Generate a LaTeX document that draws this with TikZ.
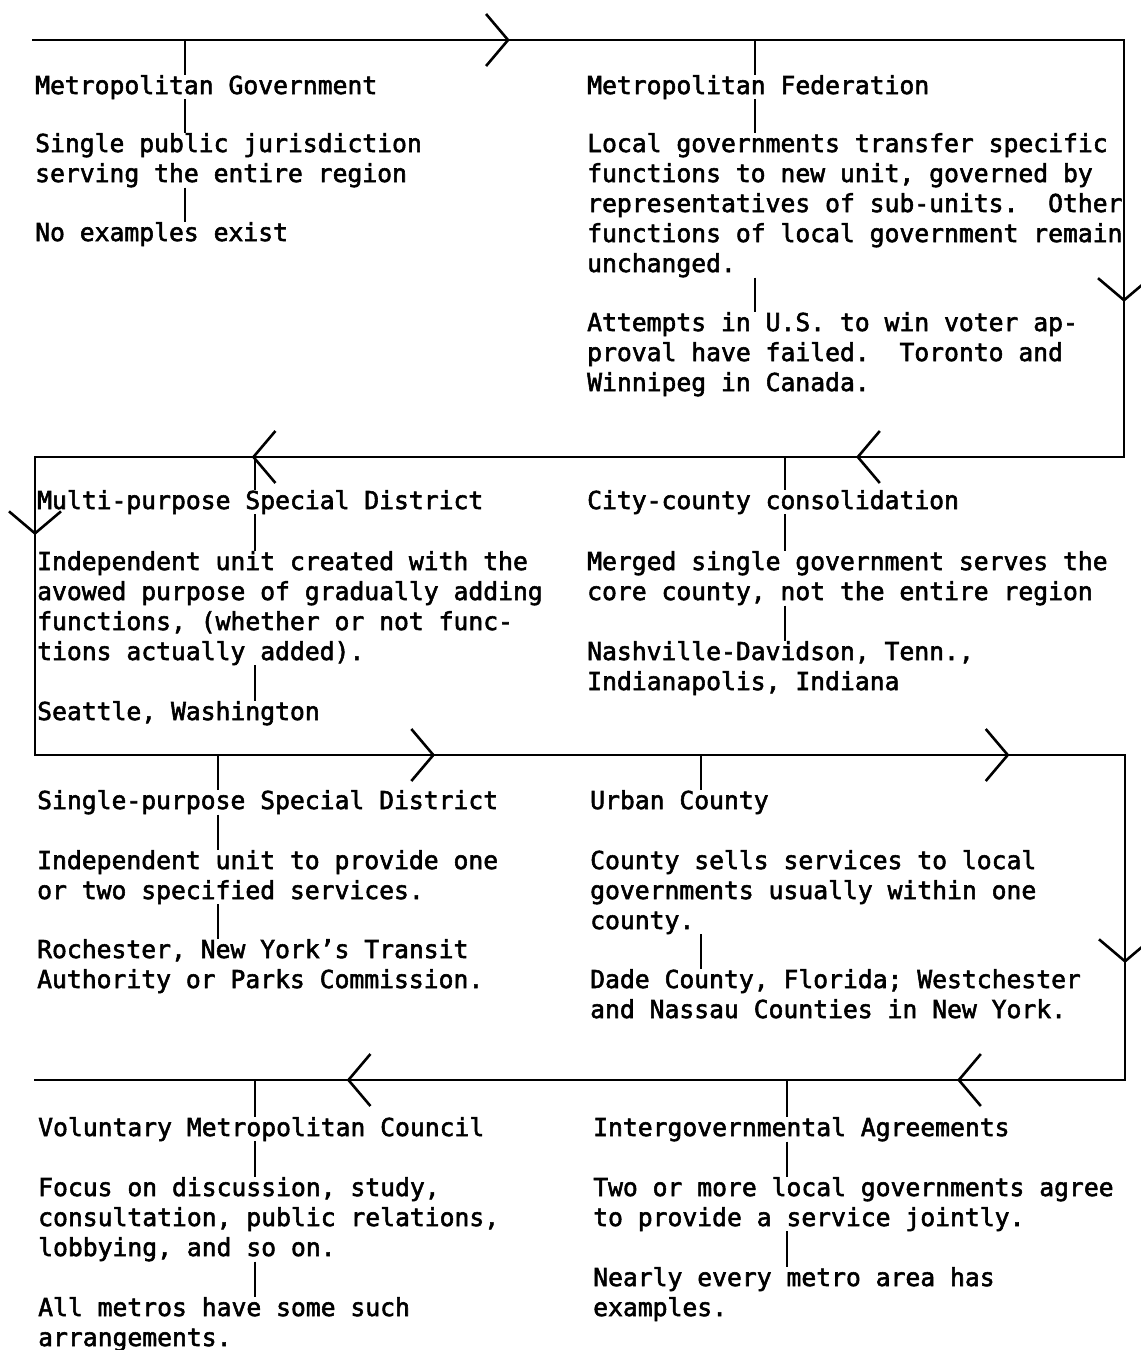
\documentclass[tikz,border=0pt]{standalone}
\usepackage{fontspec}
\usetikzlibrary{arrows.meta,decorations.markings}
\newfontfamily\typefont[FakeBold=2.2]{DejaVu Sans Mono}
\newcommand\typeset{\typefont\fontsize{24.7}{30}\selectfont\frenchspacing
  \parindent=0pt\relax}

\begin{document}
\begin{tikzpicture}[x=1pt,y=-1pt]
\tikzstyle{entry}=[anchor=base west,inner sep=0pt,text width=600pt,font=\typeset,
  execute at begin node={\spaceskip=0.602em\xspaceskip=0.602em\relax}]
\tikzstyle{route}=[line width=2.4pt,line cap=rect]
\tikzstyle{tick}=[line width=1.4pt]
\tikzset{chev/.style={postaction={decorate,decoration={markings,mark=at position #1 with {\arrow[line width=2.6pt]{Straight Barb[length=22pt,width=52pt]}}}}}}
\useasboundingbox (0,0) rectangle (1141,1350);
% corners of the route
\coordinate (c1) at (33,40);
\coordinate (c2) at (1124,40);
\coordinate (c3) at (1124,457);
\coordinate (c4) at (35,457);
\coordinate (c5) at (35,755);
\coordinate (c6) at (1125,755);
\coordinate (c7) at (1125,1080);
\coordinate (c8) at (35,1080);
\draw[route,chev=0.437] (c1) -- (c2);
\draw[route,chev=0.628] (c2) -- (c3);
\draw[route,chev=0.246,chev=0.801] (c3) -- (c4);
\draw[route,chev=0.262] (c4) -- (c5);
\draw[route,chev=0.367,chev=0.894] (c5) -- (c6);
\draw[route,chev=0.64] (c6) -- (c7);
\draw[route,chev=0.154,chev=0.714] (c7) -- (c8);
% row 1
\node[entry] (gov) at (35,94) {Metropolitan Government};
\node[entry] (govdesc) at (35,152) {Single public jurisdiction\\serving the entire region};
\node[entry] (govex) at (35,241) {No examples exist};
\node[entry] (fed) at (587,94) {Metropolitan Federation};
\node[entry] (feddesc) at (587,152) {Local governments transfer specific\\functions to new unit, governed by\\representatives of sub-units.\ \ Other\\functions of local government remain\\unchanged.};
\node[entry] (fedex) at (587,331) {Attempts in U.S. to win voter ap-\\proval have failed.\ \ Toronto and\\Winnipeg in Canada.};
% row 2
\node[entry] (multi) at (37,509) {Multi-purpose Special District};
\node[entry] (multidesc) at (37,570) {Independent unit created with the\\avowed purpose of gradually adding\\functions, (whether or not func-\\tions actually added).};
\node[entry] (multiex) at (37,720) {Seattle, Washington};
\node[entry] (city) at (587,509) {City-county consolidation};
\node[entry] (citydesc) at (587,570) {Merged single government serves the\\core county, not the entire region};
\node[entry] (cityex) at (587,660) {Nashville-Davidson, Tenn.,\\Indianapolis, Indiana};
% row 3
\node[entry] (single) at (37,809) {Single-purpose Special District};
\node[entry] (singledesc) at (37,869) {Independent unit to provide one\\or two specified services.};
\node[entry] (singleex) at (37,958) {Rochester, New York’s Transit\\Authority or Parks Commission.};
\node[entry] (urban) at (590,809) {Urban County};
\node[entry] (urbandesc) at (590,869) {County sells services to local\\governments usually within one\\county.};
\node[entry] (urbanex) at (590,988) {Dade County, Florida; Westchester\\and Nassau Counties in New York.};
% row 4
\node[entry] (council) at (38,1136) {Voluntary Metropolitan Council};
\node[entry] (councildesc) at (38,1196) {Focus on discussion, study,\\consultation, public relations,\\lobbying, and so on.};
\node[entry] (councilex) at (38,1316) {All metros have some such\\arrangements.};
\node[entry] (agree) at (593,1136) {Intergovernmental Agreements};
\node[entry] (agreedesc) at (593,1196) {Two or more local governments agree\\to provide a service jointly.};
\node[entry] (agreeex) at (593,1286) {Nearly every metro area has\\examples.};
% ticks from the route into each entry
\coordinate (tgov) at (185,40);
\coordinate (tfed) at (755,40);
\coordinate (tmulti) at (255,457);
\coordinate (tcity) at (785,457);
\coordinate (tsingle) at (218,755);
\coordinate (turban) at (701,755);
\coordinate (tcouncil) at (255,1080);
\coordinate (tagree) at (787,1080);
\foreach \t/\n in {gov/gov,fed/fed,multi/multi,city/city,single/single,council/council,agree/agree}{
  \draw[tick] (t\t) -- (t\t |- \n.north);
  \draw[tick] (t\t |- \n.south) -- (t\t |- \n desc.north);
  \draw[tick] (t\t |- \n desc.south) -- (t\t |- \n ex.north);
}
\draw[tick] (turban) -- (turban |- urban.north);
\draw[tick] (turban |- urbandesc.south) -- (turban |- urbanex.north);
\end{tikzpicture}
\end{document}
